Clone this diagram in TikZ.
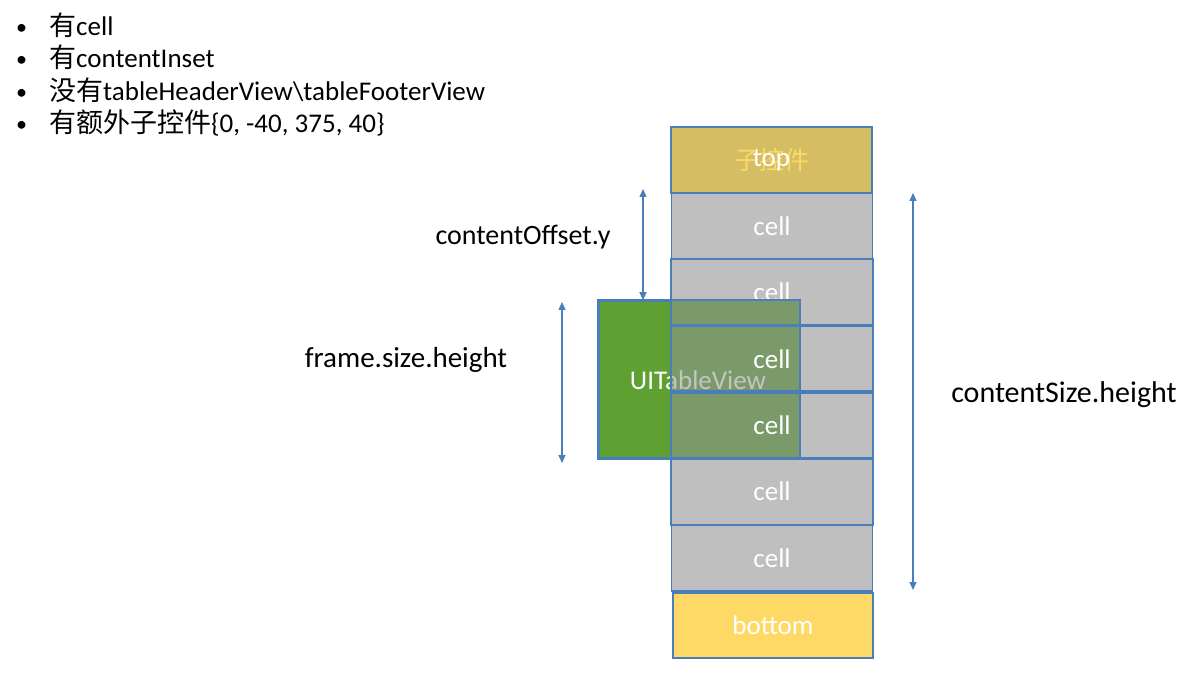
\documentclass[tikz,border=0pt]{standalone}
\usepackage{fontspec}
\setmainfont{Carlito}
\newfontfamily\cjk{Noto Sans CJK SC}
\usetikzlibrary{arrows.meta}
\definecolor{lineblue}{RGB}{74,126,187}
\definecolor{cellgray}{RGB}{191,191,191}
\definecolor{tvgreen}{RGB}{94,160,50}
\definecolor{overlapc}{RGB}{123,154,106}
\definecolor{topfill}{RGB}{212,189,98}
\definecolor{subyellow}{RGB}{255,217,102}
\definecolor{botfill}{RGB}{255,217,102}
\definecolor{tvgraytext}{RGB}{196,196,196}
\begin{document}
\begin{tikzpicture}[x=1pt,y=-1pt,
  box/.style={draw=lineblue,line width=1.6pt,minimum width=201pt,minimum height=66.3pt,inner sep=0pt,text=white,font=\fontsize{27}{32}\selectfont},
  cellbox/.style={box,fill=cellgray},
  celltext/.style={inner sep=0pt,text=white,font=\fontsize{27}{32}\selectfont},
  lbl/.style={inner sep=0pt,anchor=base,font=\fontsize{29}{34}\selectfont},
  bul/.style={inner sep=0pt,anchor=base west,font=\fontsize{27}{32}\selectfont},
  bulmark/.style={inner sep=0pt,anchor=base west,font=\fontsize{22}{26}\selectfont},
  dim/.style={draw=lineblue,line width=1.3pt,{Triangle[length=8pt,width=7pt]}-{Triangle[length=8pt,width=7pt]}}
]
\useasboundingbox (0,0) rectangle (1202,676);

% bullet list
\node[bulmark] (b1) at (16,35) {\textbullet};
\node[bul] (t1) at (49,36) {{\cjk 有}cell};
\node[bulmark] (b2) at (16,67) {\textbullet};
\node[bul] (t2) at (49,68) {{\cjk 有}contentInset};
\node[bulmark] (b3) at (16,100) {\textbullet};
\node[bul] (t3) at (49,101) {{\cjk 没有}tableHeaderView\textbackslash tableFooterView};
\node[bulmark] (b4) at (16,132) {\textbullet};
\node[bul] (t4) at (49,133) {{\cjk 有额外子控件}\{0, -40, 375, 40\}};

% top box
\node[box,fill=topfill] (topbox) at (771.5,160) {};
\node[celltext,text=subyellow,font=\cjk\fontsize{25}{30}\selectfont] (sub) at (topbox) {子控件};
\node[celltext] (toplbl) at (topbox) {top};

% cells
\node[cellbox] (c1) at (772,226.2) {cell};
\node[cellbox] (c2) at (772,292.5) {cell};
\node[cellbox] (c3) at (772,358.8) {};
\node[cellbox] (c4) at (772,425.2) {};
\node[cellbox] (c5) at (772,491.5) {cell};
\node[cellbox] (c6) at (772,557.8) {cell};

% bottom box
\node[box,fill=botfill,minimum width=200pt,minimum height=65pt] (bot) at (773,625.5) {bottom};

% UITableView
\node[draw=lineblue,line width=1.6pt,fill=tvgreen,minimum width=200pt,minimum height=157pt,inner sep=0pt] (tv) at (699,379.5) {};
\fill[overlapc] (tv.north -| c2.west) rectangle (tv.south east);
\draw[lineblue,line width=1.6pt] (tv.north west) rectangle (tv.south east);
\begin{scope}
  \clip (tv.north west) rectangle (tv.south -| c2.west);
  \node[celltext,anchor=base] (tvl) at (698,389) {UITableView};
\end{scope}
\begin{scope}
  \clip (tv.north -| c2.west) rectangle (tv.south east);
  \node[celltext,anchor=base,text=tvgraytext] (tvr) at (698,389) {UITableView};
\end{scope}
\foreach \c in {c2,c3,c4,c5}
  \draw[lineblue,line width=1.6pt] (\c.north west) rectangle (\c.south east);
\node[celltext] (c3t) at (c3) {cell};
\node[celltext] (c4t) at (c4) {cell};

% dimension arrows
\coordinate (offT) at (643,189);
\coordinate (offB) at (tv.north -| offT);
\draw[dim] (offT) -- (offB);
\node[lbl,font=\fontsize{28}{33}\selectfont] (offlbl) at (523,245) {contentOffset.y};

\coordinate (frT) at (562,302);
\coordinate (frB) at (562,463);
\draw[dim] (frT) -- (frB);
\node[lbl] (frlbl) at (406,367) {frame.size.height};

\coordinate (csT) at (913,193);
\coordinate (csB) at (913,590);
\draw[dim] (csT) -- (csB);
\node[lbl,font=\fontsize{30}{35}\selectfont] (cslbl) at (1064,402) {contentSize.height};
\end{tikzpicture}
\end{document}
